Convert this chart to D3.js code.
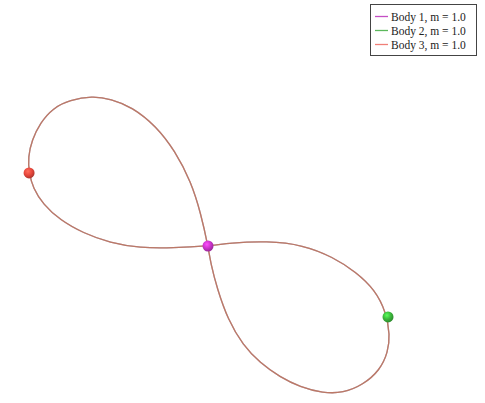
<!DOCTYPE html>
<html>
<head>
<meta charset="utf-8">
<script src="https://cdn.jsdelivr.net/npm/d3@7"></script>
<style>
  body { margin: 0; background: #fff; }
  svg { display: block; }
</style>
</head>
<body>
<svg width="485" height="403"></svg>
<script>
// projected orbit (shared by all three bodies), in plot units
var orbitX = [0, -0.039, -0.094, -0.183, -0.289, -0.422, -0.539, -0.644, -0.767, -0.861,
  -0.933, -0.978, -1.000, -0.994, -0.972, -0.917, -0.822, -0.694, -0.544, -0.378,
  -0.194, 0, 0.122, 0.328, 0.528, 0.694, 0.822, 0.928, 0.989, 1.011,
  1.000, 0.956, 0.861, 0.750, 0.639, 0.511, 0.400, 0.289, 0.194, 0.111,
  0.050, 0.017];
var orbitY = [0, 0.178, 0.356, 0.528, 0.667, 0.772, 0.817, 0.833, 0.811, 0.767,
  0.683, 0.589, 0.494, 0.406, 0.322, 0.233, 0.144, 0.072, 0.017, -0.011,
  -0.011, 0, 0.017, 0.028, 0.006, -0.061, -0.144, -0.244, -0.367, -0.494,
  -0.589, -0.689, -0.772, -0.817, -0.817, -0.783, -0.728, -0.650, -0.550, -0.411,
  -0.233, -0.106];

// current body positions
var bodyNames = ['Body 1, m = 1.0', 'Body 2, m = 1.0', 'Body 3, m = 1.0'];
var bodyX = [0, 1.000, -0.994];
var bodyY = [0, -0.394, 0.406];
var bodyColors = ['#cc33cc', '#3cb83c', '#e8473c'];
var legendColors = ['#c44ec4', '#5cb85c', '#f07f78'];

var svg = d3.select('svg');
var x = d3.scaleLinear().domain([-1, 1]).range([28, 388]);
var y = d3.scaleLinear().domain([-1, 1]).range([426, 66]);

var pts = orbitX.map(function(v, i) { return [v, orbitY[i]]; });
var line = d3.line()
  .x(function(d) { return x(d[0]); })
  .y(function(d) { return y(d[1]); })
  .curve(d3.curveBasisClosed);

// trails drawn on top of each other
bodyColors.forEach(function(c) {
  svg.append('path')
    .attr('d', line(pts))
    .attr('fill', 'none')
    .attr('stroke', c)
    .attr('stroke-opacity', 0.5)
    .attr('stroke-width', 1.3);
});

// shaded balls
var defs = svg.append('defs');
bodyColors.forEach(function(c, i) {
  var g = defs.append('radialGradient')
    .attr('id', 'ball' + i)
    .attr('cx', '40%').attr('cy', '35%').attr('r', '65%');
  g.append('stop').attr('offset', '0%').attr('stop-color', d3.color(c).brighter(1.2));
  g.append('stop').attr('offset', '55%').attr('stop-color', c);
  g.append('stop').attr('offset', '100%').attr('stop-color', d3.color(c).darker(0.8));
});

svg.selectAll('circle.body')
  .data(bodyX)
  .enter().append('circle')
    .attr('class', 'body')
    .attr('cx', function(d) { return x(d); })
    .attr('cy', function(d, i) { return y(bodyY[i]); })
    .attr('r', 5.5)
    .attr('fill', function(d, i) { return 'url(#ball' + i + ')'; });

// legend
var lg = svg.append('g').attr('transform', 'translate(370,4)');
lg.append('rect')
  .attr('x', 0.5).attr('y', 0.5)
  .attr('width', 106).attr('height', 51)
  .attr('fill', '#fff')
  .attr('stroke', '#444')
  .attr('stroke-width', 1);

var item = lg.selectAll('g.item')
  .data(bodyNames)
  .enter().append('g')
    .attr('class', 'item')
    .attr('transform', function(d, i) { return 'translate(0,' + (12.5 + i * 14) + ')'; });

item.append('line')
  .attr('x1', 5).attr('x2', 18)
  .attr('stroke', function(d, i) { return legendColors[i]; })
  .attr('stroke-width', 1.3);

item.append('text')
  .attr('x', 21)
  .attr('dy', '0.35em')
  .style('font-family', '"Liberation Serif", "DejaVu Serif", serif')
  .style('font-size', '11.5px')
  .attr('fill', '#222')
  .text(function(d) { return d; });
</script>
</body>
</html>
